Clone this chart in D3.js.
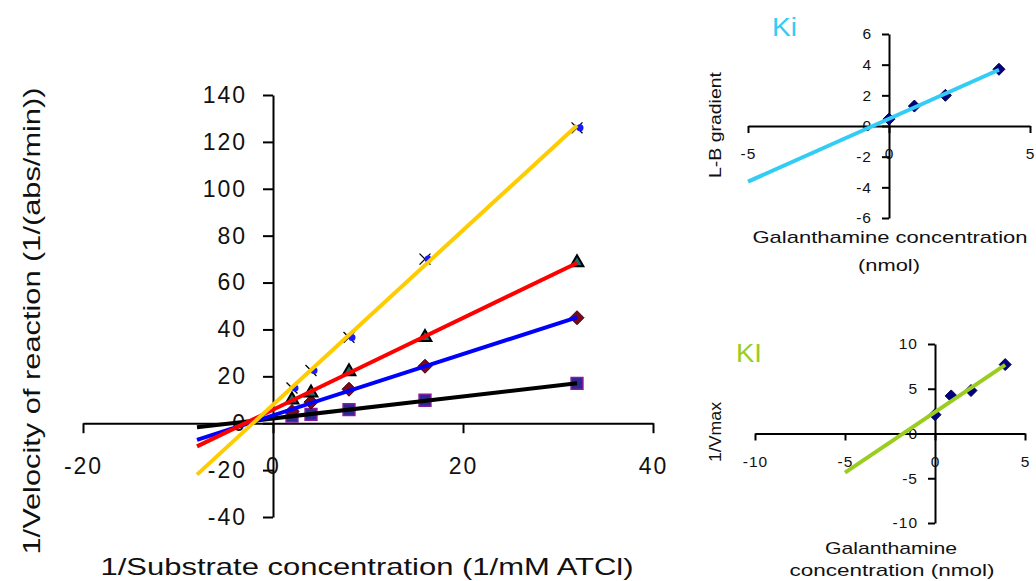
<!DOCTYPE html>
<html><head><meta charset="utf-8">
<script src="https://cdn.jsdelivr.net/npm/d3@7"></script>
<style>
body{margin:0;background:#fff}
text{font-family:"Liberation Sans",Arial,sans-serif}
</style>
</head><body>
<svg id="c" width="1036" height="581" xmlns="http://www.w3.org/2000/svg"></svg>
<script>
// ---------- data ----------
const substrate = [2, 4, 8, 16, 32];               // 1/[S] (1/mM ATCl)
const vBlack  = [3.0, 3.8, 5.8, 9.8, 17.0];        // squares
const vBlue   = [5.0, 9.0, 14.5, 24.3, 45.0];      // diamonds
const vRed    = [10.0, 13.0, 22.0, 36.6, 68.5];    // triangles
const vYellow = [15.0, 22.5, 36.6, 70.0, 126.0];   // stars
const mainXTicks = [-20, 0, 20, 40];
const mainYTicks = [-40, -20, 0, 20, 40, 60, 80, 100, 120, 140];

const galanthamine = [0, 0.9, 2.0, 3.9];
const lbGradient   = [0.45, 1.3, 2.0, 3.7];
const invVmax      = [2.1, 4.2, 4.8, 7.7];
const kiXTicks = [-5, 0, 5];
const kiYTicks = [-6, -4, -2, 0, 2, 4, 6];
const klXTicks = [-10, -5, 0, 5];
const klYTicks = [-10, -5, 0, 5, 10];

// ---------- helpers ----------
function fit(xs, ys){
  const n = xs.length, mx = d3.mean(xs), my = d3.mean(ys);
  let sxy = 0, sxx = 0;
  for (let i=0;i<n;i++){ sxy += (xs[i]-mx)*(ys[i]-my); sxx += (xs[i]-mx)**2; }
  const m = sxy/sxx; return {m, b: my - m*mx};
}
const fmt = d => String(d);
const svg = d3.select("#c");
svg.append("rect").attr("width",1036).attr("height",581).attr("fill","#fff");

function styleAxis(g, fs, ls){
  g.select(".domain").attr("stroke","#000").attr("stroke-width",2);
  g.selectAll(".tick line").attr("stroke","#000").attr("stroke-width",2);
  g.selectAll(".tick text").attr("fill","#111").style("font-size",fs+"px")
    .style("font-family",'"Liberation Sans",Arial,sans-serif').style("letter-spacing",ls+"px");
  g.attr("font-size",null).attr("font-family",null);
}

// ---------- main chart ----------
const x = d3.scaleLinear().domain([-20, 40]).range([83, 653]);
const y = d3.scaleLinear().domain([-40, 140]).range([517, 95]);

const gy = svg.append("g").attr("transform",`translate(${x(0)},0)`)
  .call(d3.axisLeft(y).tickValues(mainYTicks).tickSize(10).tickSizeOuter(0).tickPadding(16).tickFormat(fmt));
styleAxis(gy, 23, 2);
const gx = svg.append("g").attr("transform",`translate(0,${y(0)})`)
  .call(d3.axisBottom(x).tickValues(mainXTicks).tickSize(10).tickSizeOuter(0).tickPadding(24).tickFormat(fmt));
styleAxis(gx, 23, 2);

svg.append("text").attr("x",367).attr("y",575).attr("text-anchor","middle")
  .style("font-size","24px").attr("fill","#111")
  .attr("textLength",533).attr("lengthAdjust","spacingAndGlyphs")
  .text("1/Substrate concentration (1/mM ATCl)");
svg.append("text").attr("transform","translate(40,321) rotate(-90)").attr("text-anchor","middle")
  .style("font-size","24px").attr("fill","#111")
  .attr("textLength",467).attr("lengthAdjust","spacingAndGlyphs")
  .text("1/Velocity of reaction (1/(abs/min))");

const series = [
  {vals: vBlack,  line:"#000000", marker:"square"},
  {vals: vBlue,   line:"#0000ff", marker:"diamond"},
  {vals: vRed,    line:"#ff0000", marker:"triangle"},
  {vals: vYellow, line:"#ffcc00", marker:"star"}
];
const markG = svg.append("g");
series.forEach(s => {
  s.vals.forEach((v,i) => {
    const g = markG.append("g").attr("transform",`translate(${x(substrate[i])},${y(v)})`);
    if (s.marker==="square"){
      g.append("path").attr("d",d3.symbol(d3.symbolSquare,140)()).attr("fill","#2a2a90").attr("stroke","#8a1aa0").attr("stroke-width",1.5);
    } else if (s.marker==="diamond"){
      g.append("path").attr("d","M0,-7L7,0L0,7L-7,0Z").attr("fill","#7a0a14").attr("stroke","#4a0010").attr("stroke-width",1);
    } else if (s.marker==="triangle"){
      g.append("path").attr("d",d3.symbol(d3.symbolTriangle,70)()).attr("fill","#1d6f6f").attr("stroke","#000").attr("stroke-width",2);
    } else {
      g.append("path").attr("d",d3.symbol(d3.symbolTimes,80)()).attr("fill","none").attr("stroke","#000").attr("stroke-width",1.3);
      g.append("circle").attr("cx",3).attr("r",3.5).attr("fill","#1a1aff");
    }
  });
});
const lineG = svg.append("g");
series.forEach(s => {
  const f = fit(substrate, s.vals);
  const xs = [-8, 32];
  lineG.append("path")
    .attr("d", d3.line().x(d=>x(d)).y(d=>y(f.m*d+f.b))(xs))
    .attr("fill","none").attr("stroke",s.line).attr("stroke-width",4);
});

// ---------- insets ----------
function inset(o){
  const ix = d3.scaleLinear().domain(o.xd).range(o.xr);
  const iy = d3.scaleLinear().domain(o.yd).range(o.yr);
  const ay = svg.append("g").attr("transform",`translate(${ix(0)},0)`)
    .call(d3.axisLeft(iy).tickValues(o.yt).tickSize(7).tickSizeOuter(0).tickPadding(10).tickFormat(fmt));
  styleAxis(ay, 15.5, 1);
  const ax = svg.append("g").attr("transform",`translate(0,${iy(0)})`)
    .call(d3.axisBottom(ix).tickValues(o.xt).tickSize(7).tickSizeOuter(0).tickPadding(15).tickFormat(fmt));
  styleAxis(ax, 15.5, 1);
  o.vals.forEach((v,i)=>{
    svg.append("path").attr("transform",`translate(${ix(galanthamine[i])},${iy(v)})`)
      .attr("d","M0,-6L6,0L0,6L-6,0Z").attr("fill","#000080").attr("stroke","#000050").attr("stroke-width",1);
  });
  const f = fit(galanthamine, o.vals);
  svg.append("path").attr("d", d3.line().x(d=>ix(d)).y(d=>iy(f.m*d+f.b))([-5, 3.9]))
    .attr("fill","none").attr("stroke",o.color).attr("stroke-width",4);
  svg.append("text").attr("x",o.title[0]).attr("y",o.title[1]).style("font-size","25px")
    .attr("fill",o.color).attr("textLength",o.title[2]).attr("lengthAdjust","spacingAndGlyphs").text(o.name);
  svg.append("text").attr("transform",`translate(${o.yl[0]},${o.yl[1]}) rotate(-90)`).attr("text-anchor","middle")
    .style("font-size","16px").attr("fill","#111").attr("textLength",o.yl[2]).attr("lengthAdjust","spacingAndGlyphs").text(o.ylabel);
  o.xl.forEach(t=>{
    svg.append("text").attr("x",t[0]).attr("y",t[1]).attr("text-anchor","middle")
      .style("font-size","17px").attr("fill","#111").attr("textLength",t[2]).attr("lengthAdjust","spacingAndGlyphs").text(t[3]);
  });
}
inset({xd:[-5,5], xr:[748,1030], yd:[-6,6], yr:[218,34], xt:kiXTicks, yt:kiYTicks,
  vals: lbGradient, color:"#33ccf5", name:"Ki", title:[772,36,25],
  ylabel:"L-B gradient", yl:[721,125,106],
  xl:[[890,243,275,"Galanthamine concentration"],[889,271,62,"(nmol)"]]});
inset({xd:[-10,5], xr:[755,1025], yd:[-10,10], yr:[523,344], xt:klXTicks, yt:klYTicks,
  vals: invVmax, color:"#9acd1e", name:"KI", title:[736,362,26],
  ylabel:"1/Vmax", yl:[721,432,60],
  xl:[[891,554,132,"Galanthamine"],[892,576,205,"concentration (nmol)"]]});
</script>
</body></html>
